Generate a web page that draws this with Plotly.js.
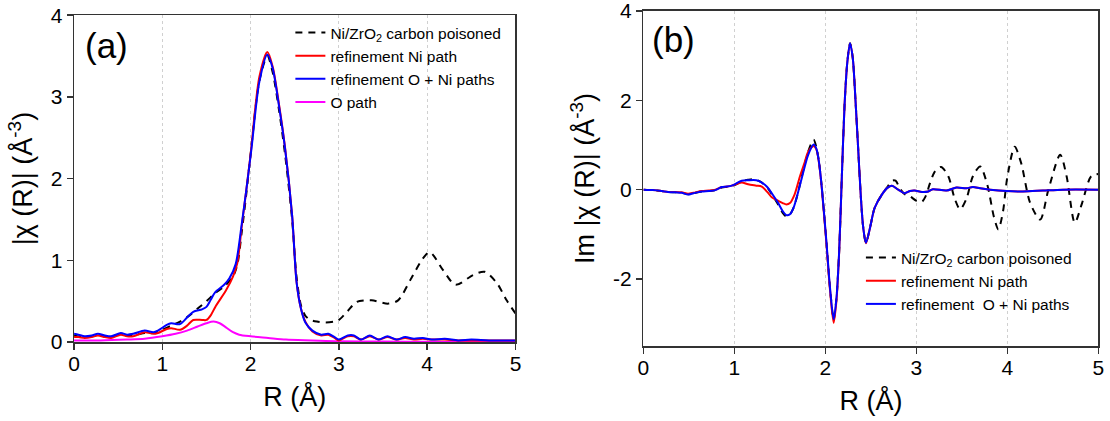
<!DOCTYPE html>
<html>
<head>
<meta charset="utf-8">
<script src="https://cdn.plot.ly/plotly-3.0.1.min.js"></script>
<style>html,body{margin:0;padding:0;background:#fff;}#chart{width:1110px;height:421px;}</style>
</head>
<body>
<div id="chart"></div>
<script>
// ---------- Panel (a): |chi(R)| ----------
const aExpR = [0,0.1,0.2,0.3,0.4,0.5,0.6,0.7,0.8,0.9,1.0,1.1,1.2,1.3,1.4,1.5,1.6,1.7,1.8,1.85,1.9,1.95,2.0,2.1,2.19,2.25,2.32,2.39,2.47,2.52,2.57,2.62,2.68,2.75,2.85,2.95,3.0,3.1,3.2,3.37,3.56,3.67,3.82,3.95,4.03,4.18,4.32,4.52,4.65,4.79,4.9,5.0];
const aExpV = [0.08,0.06,0.07,0.08,0.06,0.09,0.08,0.09,0.11,0.11,0.15,0.2,0.25,0.32,0.41,0.5,0.6,0.68,0.8,0.95,1.35,1.8,2.3,3.2,3.5,3.3,2.85,2.3,1.5,0.8,0.45,0.32,0.27,0.25,0.24,0.25,0.27,0.38,0.49,0.51,0.47,0.51,0.78,1.02,1.1,0.88,0.7,0.82,0.86,0.72,0.51,0.35];

const aNiR = [0,0.05,0.12,0.2,0.27,0.35,0.42,0.53,0.6,0.67,0.8,0.9,0.95,1.05,1.1,1.2,1.28,1.35,1.45,1.5,1.55,1.6,1.72,1.8,1.85,1.9,1.95,2.0,2.1,2.19,2.25,2.32,2.39,2.47,2.52,2.57,2.62,2.7,2.8,2.88,2.95,3.0,3.1,3.17,3.25,3.35,3.45,3.55,3.65,3.75,3.85,3.95,4.05,4.2,4.35,4.5,4.7,5.0];
const aNiV = [0.06,0.06,0.05,0.06,0.08,0.06,0.05,0.09,0.07,0.07,0.12,0.1,0.11,0.16,0.17,0.15,0.2,0.27,0.27,0.27,0.33,0.43,0.63,0.8,0.97,1.42,1.85,2.3,3.25,3.55,3.37,2.92,2.38,1.55,0.74,0.41,0.25,0.13,0.08,0.09,0.05,0.02,0.07,0.07,0.03,0.07,0.03,0.06,0.03,0.05,0.03,0.04,0.03,0.03,0.02,0.02,0.02,0.02];

const aONiR = [0,0.05,0.12,0.2,0.27,0.35,0.42,0.53,0.6,0.67,0.8,0.9,0.95,1.05,1.1,1.2,1.28,1.35,1.45,1.5,1.55,1.6,1.7,1.76,1.83,1.9,1.95,2.01,2.1,2.19,2.25,2.32,2.39,2.47,2.52,2.57,2.62,2.7,2.8,2.88,2.95,3.0,3.1,3.17,3.25,3.35,3.45,3.55,3.65,3.75,3.85,3.95,4.05,4.2,4.35,4.5,4.7,5.0];
const aONiV = [0.1,0.09,0.07,0.08,0.1,0.08,0.07,0.11,0.09,0.1,0.14,0.12,0.14,0.21,0.23,0.22,0.3,0.37,0.4,0.43,0.52,0.61,0.7,0.78,0.95,1.45,1.85,2.37,3.19,3.52,3.35,2.9,2.37,1.55,0.74,0.41,0.24,0.14,0.09,0.1,0.06,0.03,0.08,0.08,0.03,0.08,0.03,0.07,0.03,0.06,0.04,0.05,0.03,0.04,0.02,0.03,0.02,0.02];

const aOR = [0,0.3,0.6,0.8,1.0,1.15,1.28,1.4,1.5,1.58,1.65,1.72,1.8,1.87,2.0,2.2,2.4,2.7,3.0,3.5,4.0,5.0];
const aOV = [0.02,0.02,0.03,0.04,0.07,0.1,0.14,0.19,0.23,0.25,0.23,0.18,0.12,0.09,0.07,0.05,0.03,0.02,0.01,0.005,0.003,0.0];

// ---------- Panel (b): Im chi(R) ----------
const bExpR = [0,0.1,0.2,0.27,0.35,0.42,0.49,0.55,0.64,0.72,0.79,0.86,0.92,0.97,1.03,1.08,1.15,1.22,1.3,1.36,1.41,1.48,1.53,1.57,1.61,1.65,1.7,1.74,1.81,1.87,1.9,1.93,1.96,2.01,2.05,2.09,2.12,2.15,2.18,2.21,2.24,2.27,2.3,2.33,2.36,2.39,2.415,2.445,2.49,2.54,2.62,2.68,2.73,2.77,2.82,2.87,2.93,3.0,3.06,3.1,3.15,3.2,3.27,3.35,3.42,3.48,3.55,3.62,3.7,3.78,3.85,3.9,3.95,4.0,4.08,4.15,4.25,4.36,4.45,4.58,4.65,4.74,4.82,4.92,5.0];
const bExpV = [0,-0.01,-0.03,-0.05,-0.06,-0.07,-0.1,-0.08,-0.04,-0.03,-0.01,0.05,0.06,0.08,0.13,0.19,0.22,0.23,0.16,0.05,-0.1,-0.33,-0.52,-0.6,-0.55,-0.4,-0.05,0.3,0.85,1.12,0.95,0.6,0.04,-1.15,-2.2,-2.9,-2.45,-1.4,0.3,1.9,2.85,3.28,2.95,2.0,0.9,-0.2,-0.85,-1.19,-0.85,-0.41,-0.11,0.06,0.2,0.2,0.02,-0.1,-0.15,-0.25,-0.27,-0.15,0.15,0.4,0.51,0.3,-0.2,-0.44,-0.2,0.3,0.52,0.1,-0.6,-0.89,-0.5,0.3,0.96,0.6,-0.3,-0.67,0.0,0.78,0.3,-0.74,-0.3,0.3,0.35];

const bNiR = [0,0.1,0.2,0.27,0.35,0.42,0.49,0.55,0.64,0.72,0.79,0.86,0.92,0.97,1.03,1.08,1.15,1.24,1.3,1.36,1.41,1.48,1.53,1.57,1.61,1.66,1.72,1.77,1.81,1.87,1.9,1.93,1.96,2.01,2.05,2.09,2.12,2.15,2.18,2.21,2.24,2.27,2.3,2.33,2.36,2.39,2.415,2.445,2.49,2.54,2.62,2.68,2.73,2.8,2.87,2.93,2.98,3.06,3.13,3.18,3.33,3.44,3.55,3.62,3.7,3.81,3.99,4.17,4.39,4.61,5.0];
const bNiV = [0,-0.01,-0.03,-0.05,-0.05,-0.06,-0.09,-0.07,-0.03,-0.02,0.0,0.06,0.07,0.09,0.13,0.16,0.12,0.09,0.07,-0.05,-0.17,-0.25,-0.3,-0.33,-0.3,-0.11,0.3,0.6,0.85,0.98,0.9,0.58,0.02,-1.2,-2.25,-2.98,-2.5,-1.42,0.3,1.9,2.85,3.27,2.95,2.0,0.9,-0.2,-0.85,-1.2,-0.85,-0.41,-0.11,0.04,0.09,0.0,-0.08,-0.03,-0.02,-0.05,-0.04,0.01,-0.02,0.05,0.03,0.06,0.03,0.0,-0.03,-0.04,-0.02,0.0,0.0];

const bONiR = [0,0.1,0.2,0.27,0.35,0.42,0.49,0.55,0.64,0.72,0.79,0.86,0.92,0.97,1.03,1.08,1.15,1.24,1.3,1.36,1.41,1.48,1.53,1.57,1.61,1.65,1.7,1.74,1.81,1.87,1.9,1.93,1.96,2.01,2.05,2.09,2.12,2.15,2.18,2.21,2.24,2.27,2.3,2.33,2.36,2.39,2.415,2.445,2.49,2.54,2.62,2.68,2.73,2.8,2.87,2.93,2.98,3.06,3.13,3.18,3.33,3.44,3.55,3.62,3.7,3.81,3.99,4.17,4.39,4.61,5.0];
const bONiV = [0,-0.01,-0.03,-0.05,-0.06,-0.07,-0.11,-0.08,-0.04,-0.03,-0.01,0.06,0.07,0.09,0.15,0.2,0.21,0.21,0.16,0.06,-0.08,-0.3,-0.48,-0.57,-0.55,-0.4,-0.05,0.26,0.78,1.01,0.92,0.6,0.04,-1.15,-2.2,-2.9,-2.45,-1.4,0.3,1.9,2.85,3.28,2.95,2.0,0.9,-0.2,-0.85,-1.19,-0.85,-0.41,-0.11,0.04,0.09,0.0,-0.08,-0.03,-0.02,-0.05,-0.04,0.01,-0.02,0.05,0.03,0.06,0.03,0.0,-0.03,-0.04,-0.02,0.0,0.0];

// ---------- Labels ----------
const nameExp = 'Ni/ZrO<sub>2</sub> carbon poisoned';
const nameNi = 'refinement Ni path';
const nameONiA = 'refinement O + Ni paths';
const nameONiB = 'refinement  O + Ni paths';
const nameO = 'O path';
const xTickVals = [0,1,2,3,4,5];
const aYTickVals = [0,1,2,3,4];
const bYTickVals = [-2,0,2,4];
const bYTickText = ['-2','0','2','4'];

const FONT = 'Arial, "Liberation Sans", sans-serif';
const sm = 0.8;

const traces = [
  {x:aExpR, y:aExpV, xaxis:'x', yaxis:'y', name:nameExp, mode:'lines', line:{color:'#000', width:2, dash:'7px,6px', shape:'spline', smoothing:sm}, legend:'legend', legendrank:1},
  {x:aOR, y:aOV, xaxis:'x', yaxis:'y', name:nameO, mode:'lines', line:{color:'#ff00ff', width:2, shape:'spline', smoothing:sm}, legend:'legend', legendrank:4},
  {x:aNiR, y:aNiV, xaxis:'x', yaxis:'y', name:nameNi, mode:'lines', line:{color:'#ff0000', width:2, shape:'spline', smoothing:sm}, legend:'legend', legendrank:2},
  {x:aONiR, y:aONiV, xaxis:'x', yaxis:'y', name:nameONiA, mode:'lines', line:{color:'#0000ff', width:2, shape:'spline', smoothing:sm}, legend:'legend', legendrank:3},

  {x:bExpR, y:bExpV, xaxis:'x2', yaxis:'y2', name:nameExp, mode:'lines', line:{color:'#000', width:2, dash:'7px,6px', shape:'spline', smoothing:sm}, legend:'legend2', legendrank:1},
  {x:bNiR, y:bNiV, xaxis:'x2', yaxis:'y2', name:nameNi, mode:'lines', line:{color:'#ff0000', width:2, shape:'spline', smoothing:sm}, legend:'legend2', legendrank:2},
  {x:bONiR, y:bONiV, xaxis:'x2', yaxis:'y2', name:nameONiB, mode:'lines', line:{color:'#0000ff', width:2, shape:'spline', smoothing:sm}, legend:'legend2', legendrank:3}
];

function xAxis(domain, anchor){
  return {domain:domain, anchor:anchor, range:[0,5], tickvals:xTickVals, ticks:'outside', ticklen:6, tickwidth:1.5, tickcolor:'#333',
    showline:true, mirror:true, linecolor:'#333', linewidth:1.5, showgrid:true, gridcolor:'#d0d0d0', griddash:'dot', gridwidth:1,
    zeroline:false, ticklabeloverflow:'allow', ticklabelstandoff:-4, tickfont:{size:21, color:'#000', family:FONT},
    title:{text:'R (Å)', font:{size:27, color:'#000', family:FONT}, standoff:13}};
}
function yAxis(domain, anchor, range, tv, tt, title){
  const o = {domain:domain, anchor:anchor, range:range, tickvals:tv, ticks:'outside', ticklen:6, tickwidth:1.5, tickcolor:'#333',
    showline:true, mirror:true, linecolor:'#333', linewidth:1.5, showgrid:false, zeroline:false, ticklabeloverflow:'allow',
    tickfont:{size:21, color:'#000', family:FONT}, title:{text:title, font:{size:27, color:'#000', family:FONT}, standoff:10}};
  if (tt) o.ticktext = tt;
  return o;
}

const layout = {
  width:1110, height:421,
  margin:{l:0, r:0, t:0, b:0},
  paper_bgcolor:'#fff', plot_bgcolor:'#fff',
  font:{family:FONT, color:'#000'},
  showlegend:true,
  xaxis: xAxis([0.0667, 0.4644], 'y'),
  yaxis: yAxis([0.1876, 0.9639], 'x', [0,4], aYTickVals, null, '|χ (R)| (Å<sup>-3</sup>)'),
  xaxis2: xAxis([0.5797, 0.9896], 'y2'),
  yaxis2: yAxis([0.1781, 0.9739], 'x2', [-3.5,4], bYTickVals, bYTickText, 'Im |χ (R)| (Å<sup>-3</sup>)'),
  legend:{x:0.2616, y:0.962, xanchor:'left', yanchor:'top', bgcolor:'rgba(0,0,0,0)', font:{size:15.5, color:'#000', family:FONT}, tracegroupgap:0, traceorder:'normal'},
  legend2:{x:0.7756, y:0.4275, xanchor:'left', yanchor:'top', bgcolor:'rgba(0,0,0,0)', font:{size:15.5, color:'#000', family:FONT}, tracegroupgap:0, traceorder:'normal'},
  annotations:[
    {text:'(a)', xref:'paper', yref:'paper', x:106/1110, y:1-45/421, xanchor:'center', yanchor:'middle', showarrow:false, font:{size:35, color:'#000', family:FONT}},
    {text:'(b)', xref:'paper', yref:'paper', x:673/1110, y:1-40/421, xanchor:'center', yanchor:'middle', showarrow:false, font:{size:35, color:'#000', family:FONT}}
  ]
};

Plotly.newPlot('chart', traces, layout, {displayModeBar:false, staticPlot:true});
</script>
</body>
</html>
